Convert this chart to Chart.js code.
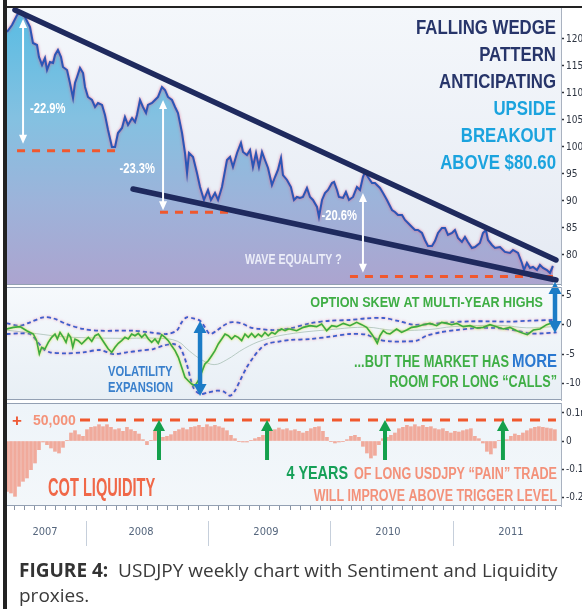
<!DOCTYPE html>
<html><head><meta charset="utf-8">
<script src="https://cdn.jsdelivr.net/npm/chart.js@4.4.1/dist/chart.umd.min.js"></script>
<style>
html,body{margin:0;padding:0;background:#fff}
body{width:582px;height:609px;position:relative;overflow:hidden}
canvas{position:absolute;left:0}
.frame{position:absolute;background:#222}
#caption{position:absolute;left:19px;top:558px;margin:0;font-family:'Open Sans',sans-serif;font-size:19px;line-height:25px;color:#3a3a3a;white-space:nowrap}
#caption b{font-weight:700;color:#333}
</style></head><body>
<canvas id="cPrice" width="582" height="286" style="top:0px"></canvas>
<canvas id="cSkew" width="582" height="131" style="top:270px"></canvas>
<canvas id="cCot" width="582" height="152" style="top:398px"></canvas>
<div class="frame" style="left:3px;top:0;width:4px;height:609px"></div>
<div class="frame" style="left:3px;top:6px;width:579px;height:2px"></div>
<p id="caption"><b>FIGURE 4:</b>&nbsp; USDJPY weekly chart with Sentiment and Liquidity<br>proxies.</p>
<script>
// ---------------- DATA (x = decimal year) ----------------
const usdjpy = [[2007.359,121.30],[2007.400,122.59],[2007.441,124.44],[2007.465,125.00],[2007.506,124.07],[2007.547,122.22],[2007.571,119.26],[2007.604,118.89],[2007.620,116.67],[2007.645,115.19],[2007.669,116.48],[2007.686,114.26],[2007.710,115.74],[2007.735,115.56],[2007.751,117.04],[2007.775,117.96],[2007.800,116.67],[2007.816,114.81],[2007.849,114.26],[2007.873,111.85],[2007.898,109.07],[2007.914,111.85],[2007.931,112.96],[2007.955,114.63],[2007.980,113.70],[2007.996,111.11],[2008.020,109.26],[2008.053,108.70],[2008.078,107.41],[2008.102,108.15],[2008.135,107.78],[2008.159,105.93],[2008.184,103.15],[2008.216,100.00],[2008.241,100.00],[2008.265,102.59],[2008.298,103.52],[2008.322,105.56],[2008.347,104.07],[2008.380,105.37],[2008.404,104.63],[2008.420,105.93],[2008.445,108.70],[2008.469,107.41],[2008.494,106.30],[2008.510,107.78],[2008.543,108.15],[2008.567,108.70],[2008.592,109.26],[2008.624,111.11],[2008.649,110.56],[2008.673,109.26],[2008.706,108.70],[2008.731,107.41],[2008.755,106.30],[2008.788,102.59],[2008.812,98.89],[2008.829,95.19],[2008.845,98.89],[2008.878,98.15],[2008.910,95.19],[2008.935,92.59],[2008.967,90.19],[2009.000,92.04],[2009.024,90.19],[2009.057,91.48],[2009.082,90.19],[2009.114,92.59],[2009.155,97.59],[2009.180,98.15],[2009.204,96.30],[2009.237,98.89],[2009.269,100.74],[2009.286,99.07],[2009.318,98.52],[2009.343,99.44],[2009.367,96.30],[2009.392,98.89],[2009.416,96.30],[2009.441,99.07],[2009.465,97.59],[2009.490,96.11],[2009.522,92.96],[2009.547,94.44],[2009.571,95.74],[2009.596,97.96],[2009.612,94.81],[2009.645,93.89],[2009.677,92.59],[2009.702,90.19],[2009.726,90.74],[2009.751,90.56],[2009.775,90.74],[2009.808,92.41],[2009.833,90.74],[2009.857,90.19],[2009.890,88.89],[2009.906,87.04],[2009.931,90.19],[2009.955,91.48],[2009.980,92.04],[2010.012,93.33],[2010.029,93.52],[2010.053,92.04],[2010.069,90.74],[2010.102,90.56],[2010.126,91.67],[2010.151,90.19],[2010.184,90.74],[2010.216,92.59],[2010.241,92.04],[2010.265,94.44],[2010.282,95.37],[2010.306,94.44],[2010.339,93.33],[2010.363,93.33],[2010.404,92.41],[2010.429,91.48],[2010.461,90.19],[2010.502,88.33],[2010.526,87.96],[2010.551,87.41],[2010.584,87.41],[2010.608,86.48],[2010.633,85.93],[2010.665,85.19],[2010.690,84.63],[2010.714,84.63],[2010.747,84.07],[2010.771,82.78],[2010.796,81.67],[2010.829,81.67],[2010.853,82.59],[2010.878,84.07],[2010.910,85.00],[2010.935,85.00],[2010.959,83.70],[2010.992,84.07],[2011.016,84.63],[2011.041,83.15],[2011.073,82.41],[2011.098,83.33],[2011.122,82.41],[2011.155,81.30],[2011.180,81.48],[2011.220,82.22],[2011.245,84.07],[2011.269,84.63],[2011.286,82.78],[2011.318,81.85],[2011.343,81.30],[2011.384,81.48],[2011.424,80.56],[2011.465,80.37],[2011.490,80.93],[2011.531,80.37],[2011.563,78.52],[2011.580,77.22],[2011.604,78.52],[2011.629,77.59],[2011.653,77.78],[2011.686,77.22],[2011.710,78.15],[2011.735,77.59],[2011.767,77.22],[2011.792,76.67],[2011.816,77.96]];
const wedgeUpper = [[2007.424,125.37],[2011.841,79.07]];
const wedgeLower = [[2008.388,92.22],[2011.841,75.37]];
// [from, to, level]
const drawdownLevels = [[2007.441,2008.241,99.31],[2008.608,2009.261,87.91],[2010.159,2011.841,76.02]];
// [date, top, bottom]
const drawdownArrows = [[2007.490,123.7,100.6],[2008.633,108.7,88.3],[2010.265,91.5,76.7]];
const drawdownLabels = ['-22.9%','-23.3%','-20.6%'];
const priceTicks = [80,85,90,95,100,105,110,115,120];

const skew = [[2007.356,-0.70],[2007.411,-0.42],[2007.465,-0.30],[2007.520,-0.99],[2007.574,-1.56],[2007.601,-2.70],[2007.623,-4.99],[2007.642,-3.84],[2007.669,-4.13],[2007.696,-2.99],[2007.724,-2.13],[2007.751,-1.56],[2007.770,-2.42],[2007.792,-1.28],[2007.819,-2.13],[2007.841,-2.99],[2007.860,-1.56],[2007.879,-2.13],[2007.896,-3.84],[2007.914,-2.42],[2007.941,-2.70],[2007.969,-3.27],[2007.996,-2.70],[2008.023,-2.13],[2008.051,-2.82],[2008.078,-1.85],[2008.105,-1.56],[2008.132,-2.42],[2008.159,-3.27],[2008.186,-4.13],[2008.214,-4.70],[2008.241,-3.84],[2008.268,-3.16],[2008.295,-2.70],[2008.322,-2.13],[2008.349,-2.42],[2008.377,-1.56],[2008.404,-1.85],[2008.431,-1.45],[2008.459,-2.13],[2008.486,-1.56],[2008.513,-2.42],[2008.540,-2.99],[2008.567,-2.42],[2008.594,-3.16],[2008.622,-1.68],[2008.649,-2.13],[2008.676,-2.70],[2008.703,-3.56],[2008.731,-4.41],[2008.758,-5.56],[2008.785,-7.27],[2008.812,-8.98],[2008.839,-9.56],[2008.867,-10.13],[2008.894,-10.42],[2008.921,-9.56],[2008.948,-8.13],[2008.975,-6.70],[2009.002,-6.13],[2009.030,-5.27],[2009.057,-4.41],[2009.084,-3.27],[2009.112,-2.42],[2009.139,-1.56],[2009.166,-1.85],[2009.193,-2.42],[2009.220,-1.85],[2009.247,-2.13],[2009.275,-2.70],[2009.302,-1.56],[2009.329,-2.13],[2009.356,-1.45],[2009.384,-2.13],[2009.411,-1.56],[2009.438,-2.02],[2009.465,-1.28],[2009.492,-1.85],[2009.520,-1.28],[2009.547,-1.56],[2009.574,-0.99],[2009.601,-0.70],[2009.629,-0.99],[2009.655,-0.70],[2009.669,-0.70],[2009.724,-0.99],[2009.778,-0.42],[2009.833,-0.13],[2009.887,-0.30],[2009.928,0.15],[2009.969,-0.99],[2010.010,-0.13],[2010.050,-0.30],[2010.105,0.26],[2010.159,-0.13],[2010.214,0.43],[2010.255,0.04],[2010.295,-0.42],[2010.336,-1.56],[2010.363,-2.42],[2010.382,-3.16],[2010.404,-1.85],[2010.431,-0.99],[2010.459,-1.45],[2010.486,-1.56],[2010.540,-0.70],[2010.581,-1.28],[2010.622,-0.88],[2010.663,-0.42],[2010.704,-0.30],[2010.758,0.04],[2010.812,0.26],[2010.867,-0.13],[2010.908,0.43],[2010.949,0.26],[2010.990,0.04],[2011.030,0.26],[2011.084,-0.30],[2011.139,-0.13],[2011.193,-0.53],[2011.247,-0.42],[2011.302,0.04],[2011.356,-0.30],[2011.411,-0.70],[2011.465,-0.42],[2011.520,-0.99],[2011.574,-1.45],[2011.607,-1.68],[2011.656,-0.88],[2011.710,-0.70],[2011.765,0.04],[2011.819,0.43]];
const skewUpper = [[2007.356,0.26],[2007.465,-0.13],[2007.547,0.43],[2007.656,1.30],[2007.737,1.12],[2007.846,0.15],[2007.982,-0.70],[2008.118,-0.99],[2008.255,-0.99],[2008.390,-0.99],[2008.526,-1.28],[2008.663,-1.56],[2008.744,-0.99],[2008.785,0.43],[2008.826,1.30],[2008.880,1.12],[2008.935,0.72],[2008.975,-0.42],[2009.016,-1.56],[2009.071,-0.99],[2009.125,-0.13],[2009.180,0.43],[2009.234,0.43],[2009.288,0.15],[2009.343,-0.42],[2009.425,-0.70],[2009.533,-0.88],[2009.669,-0.60],[2009.833,0.26],[2009.996,0.72],[2010.159,0.84],[2010.295,1.12],[2010.431,1.18],[2010.567,0.61],[2010.676,0.04],[2010.812,0.15],[2010.976,0.43],[2011.139,0.61],[2011.302,0.61],[2011.465,0.55],[2011.628,0.72],[2011.819,0.84]];
const skewLower = [[2007.356,-1.56],[2007.465,-1.45],[2007.547,-1.56],[2007.601,-2.70],[2007.656,-4.13],[2007.710,-4.70],[2007.846,-4.87],[2007.982,-4.70],[2008.118,-4.30],[2008.227,-4.99],[2008.336,-4.70],[2008.445,-4.41],[2008.554,-4.13],[2008.635,-3.56],[2008.717,-3.27],[2008.771,-3.84],[2008.826,-6.70],[2008.880,-10.70],[2008.935,-11.84],[2009.002,-11.56],[2009.071,-11.27],[2009.125,-11.39],[2009.180,-12.13],[2009.220,-11.27],[2009.261,-9.56],[2009.316,-7.27],[2009.370,-5.56],[2009.425,-4.13],[2009.479,-3.27],[2009.588,-2.82],[2009.669,-2.59],[2009.833,-2.42],[2009.996,-2.02],[2010.159,-1.56],[2010.295,-1.68],[2010.377,-2.42],[2010.486,-2.82],[2010.622,-2.82],[2010.704,-2.70],[2010.785,-1.85],[2010.894,-1.28],[2011.030,-0.88],[2011.193,-0.53],[2011.356,-0.53],[2011.520,-0.99],[2011.628,-1.45],[2011.737,-1.45],[2011.846,-1.28]];
const skewMean = [[2007.356,-0.9],[2007.6,-1.5],[2007.8,-2.0],[2008.0,-2.2],[2008.3,-2.3],[2008.6,-2.3],[2008.75,-2.8],[2008.85,-4.5],[2008.95,-6.0],[2009.05,-6.8],[2009.15,-6.0],[2009.3,-4.0],[2009.45,-2.6],[2009.65,-1.6],[2010.0,-0.8],[2010.3,-0.4],[2010.5,-0.9],[2010.8,-0.8],[2011.0,-0.3],[2011.4,-0.1],[2011.6,-0.5],[2011.82,-0.3]];
const skewTicks = [5,0,-5,-10];
const volArrow = [2008.935,0.67,-12.17];
const skewArrow = [2011.833,7.35,-1.39];

// COT net position, thousands of contracts, sampled every 12 days from cotFirst
const cotFirst = 2007.359, cotStep = 0.03265;
const cotNetK = [-179.8,-185.7,-197.6,-161.8,-144.0,-132.1,-102.4,-78.6,-31.0,-3.6,-13.1,-25.0,-36.9,-42.9,-22.6,1.2,28.6,36.9,22.6,16.7,40.5,48.8,51.2,58.3,51.2,58.3,48.8,40.5,44.0,34.5,48.8,40.5,34.5,25.0,4.8,-13.1,1.2,34.5,22.6,13.1,16.7,22.6,34.5,40.5,46.4,40.5,48.8,51.2,55.9,48.8,58.3,51.2,55.9,51.2,46.4,36.9,20.2,8.3,-1.2,-3.6,-3.6,1.2,8.3,13.1,20.2,28.6,34.5,40.5,46.4,40.5,44.0,36.9,40.5,34.5,28.6,34.5,44.0,48.8,51.2,34.5,13.1,-1.2,-7.1,-3.6,-1.2,4.8,16.7,20.2,13.1,-19.0,-42.9,-60.7,-51.2,-13.1,8.3,13.1,20.2,28.6,44.0,48.8,55.9,51.2,58.3,51.2,55.9,48.8,51.2,44.0,40.5,44.0,34.5,28.6,34.5,32.1,36.9,40.5,44.0,16.7,8.3,-7.1,-36.9,-46.4,-25.0,1.2,8.3,4.8,16.7,25.0,20.2,28.6,36.9,44.0,48.8,51.2,48.8,46.4,44.0,40.5];
const cotTicks = [100,0,-100,-200];
const triggerLine = [2007.955,2011.841,75];     // dashed "50,000" trigger line as drawn
const painArrowDates = [2008.600,2009.482,2010.445,2011.408];
const painArrowRange = [-67.9,75];

const yearLabels = ['2007','2008','2009','2010','2011'];
const yearLabelDates = [2007.669,2008.453,2009.473,2010.469,2011.473];
const yearStarts = [2008,2009,2010,2011];

// ---------------- HELPERS ----------------
const X_MIN = 2007.359, X_MAX = 2011.882, AXIS_W = 21;
const FB = "'Liberation Sans', Arial, sans-serif";
const FA = "'Liberation Sans Narrow','DejaVu Sans Condensed','Liberation Sans',sans-serif";
const pts = s => s.map(([x,y]) => ({x,y}));

function capText(ctx, s, x, cy, size, color, sx, align) {
  ctx.save();
  ctx.font = `bold ${size}px ${FB}`;
  ctx.fillStyle = color;
  ctx.textAlign = align || 'left';
  ctx.textBaseline = 'alphabetic';
  ctx.translate(x, cy + size * 0.358);
  ctx.scale(sx, 1);
  ctx.fillText(s, 0, 0);
  ctx.restore();
}
function vArrow(ctx, x, yTop, yBot, color, lw, hw, hl, both) {
  ctx.save();
  ctx.strokeStyle = color; ctx.fillStyle = color; ctx.lineWidth = lw;
  ctx.beginPath(); ctx.moveTo(x, yTop + hl * 0.8); ctx.lineTo(x, both ? yBot - hl * 0.8 : yBot); ctx.stroke();
  ctx.beginPath(); ctx.moveTo(x, yTop); ctx.lineTo(x - hw / 2, yTop + hl); ctx.lineTo(x + hw / 2, yTop + hl); ctx.closePath(); ctx.fill();
  if (both) { ctx.beginPath(); ctx.moveTo(x, yBot); ctx.lineTo(x - hw / 2, yBot - hl); ctx.lineTo(x + hw / 2, yBot - hl); ctx.closePath(); ctx.fill(); }
  ctx.restore();
}
const panelPlugin = {
  id: 'panel',
  beforeDraw(chart, args, o) {
    const {ctx, chartArea: a} = chart;
    const g = ctx.createLinearGradient(0, a.top, 0, a.bottom);
    o.stops.forEach(([p, c]) => g.addColorStop(p, c));
    ctx.save(); ctx.fillStyle = g; ctx.fillRect(a.left, a.top, a.right - a.left, a.bottom - a.top); ctx.restore();
  },
  afterDraw(chart, args, o) {
    const {ctx, chartArea: a} = chart;
    ctx.save(); ctx.strokeStyle = o.border; ctx.lineWidth = 1; ctx.beginPath();
    if (o.top) { ctx.moveTo(a.left, a.top + 0.5); ctx.lineTo(a.right, a.top + 0.5); }
    ctx.moveTo(a.left, a.bottom - 0.5); ctx.lineTo(a.right, a.bottom - 0.5);
    ctx.stroke(); ctx.restore();
  }
};
const haloPlugin = {
  id: 'halo',
  beforeDatasetDraw(chart, {index}) {
    const ds = chart.data.datasets[index];
    if (!ds.halo) return;
    chart.ctx.save(); chart.ctx.shadowColor = ds.halo; chart.ctx.shadowBlur = 2.5;
  },
  afterDatasetDraw(chart, {index}) { if (chart.data.datasets[index].halo) chart.ctx.restore(); }
};
function xAxis() { return {type: 'linear', min: X_MIN, max: X_MAX, offset: false, display: false, grid: {display: false, offset: false}}; }
function yAxis(min, max, ticks, fmt) {
  return {
    position: 'right', min, max,
    afterBuildTicks: s => { s.ticks = ticks.map(v => ({value: v})); },
    afterFit: s => { s.width = AXIS_W; s.paddingTop = 0; s.paddingBottom = 0; },
    ticks: {padding: 2, color: '#2e3542', font: {family: FA, size: 10}, callback: fmt || (v => String(v))},
    grid: {drawOnChartArea: false, drawTicks: true, tickLength: 3, tickColor: '#30343c', tickWidth: 1.5},
    border: {display: true, color: '#a9b2c0', width: 1}
  };
}
function baseOptions(padding, scales, plugins) {
  return {responsive: false, animation: false, events: [], layout: {padding}, scales,
    plugins: Object.assign({legend: {display: false}, tooltip: {enabled: false}}, plugins)};
}

// ---------------- PRICE PANEL ----------------
const priceFill = c => {
  const a = c.chart.chartArea; if (!a) return 'rgba(0,0,0,0)';
  const g = c.chart.ctx.createLinearGradient(0, a.top, 0, a.bottom);
  g.addColorStop(0, '#58bce3'); g.addColorStop(0.4, '#84c1e1'); g.addColorStop(0.7, '#9db3da'); g.addColorStop(1, '#aca4cf');
  return g;
};
const priceNotes = {
  id: 'priceNotes',
  afterDatasetsDraw(chart) {
    const {ctx, scales: {x, y}} = chart;
    drawdownArrows.forEach(([d, t, b]) => vArrow(ctx, x.getPixelForValue(d), y.getPixelForValue(t), y.getPixelForValue(b), '#ffffff', 2, 8, 9, true));
    const ax = drawdownArrows.map(a => x.getPixelForValue(a[0]));
    capText(ctx, drawdownLabels[0], ax[0] + 7, 108, 14, '#ffffff', 0.8, 'left');
    capText(ctx, drawdownLabels[1], ax[1] - 8, 168, 14, '#ffffff', 0.8, 'right');
    capText(ctx, drawdownLabels[2], ax[2] - 6, 215, 14, '#ffffff', 0.8, 'right');
    capText(ctx, 'WAVE EQUALITY ?', 245, 259, 14, 'rgba(238,240,250,0.95)', 0.76, 'left');
    const head = [['FALLING WEDGE', '#27356a', 26], ['PATTERN', '#27356a', 53], ['ANTICIPATING', '#27356a', 80],
                  ['UPSIDE', '#1ba3de', 107], ['BREAKOUT', '#1ba3de', 134], ['ABOVE $80.60', '#1ba3de', 161]];
    head.forEach(([s, c, cy]) => capText(ctx, s, 556, cy, 21, c, 0.8, 'right'));
  }
};
new Chart(document.getElementById('cPrice'), {
  type: 'line',
  data: {datasets: [
    {label: 'Wedge upper', data: pts(wedgeUpper), borderColor: '#1f2a5e', borderWidth: 5.5, borderCapStyle: 'round', pointRadius: 0, order: 0},
    {label: 'Wedge lower', data: pts(wedgeLower), borderColor: '#1f2a5e', borderWidth: 5.5, borderCapStyle: 'round', pointRadius: 0, order: 0},
    ...drawdownLevels.map(([f, t, v]) => ({label: 'Level', data: [{x: f, y: v}, {x: t, y: v}], borderColor: '#f0582e', borderWidth: 3, borderDash: [8, 7], pointRadius: 0, order: 1})),
    {label: 'USDJPY', data: pts(usdjpy), borderColor: '#2b56b6', borderWidth: 2, pointRadius: 0, tension: 0, fill: 'start', backgroundColor: priceFill, halo: 'rgba(225,90,130,0.9)', order: 2}
  ]},
  options: baseOptions({top: 8, bottom: 1, left: 7, right: 0},
    {x: xAxis(), y: yAxis(74.44, 125.74, priceTicks)},
    {panel: {stops: [[0, '#f4f7fb'], [1, '#e5eaf3']], border: '#93a0b3', top: false}}),
  plugins: [panelPlugin, haloPlugin, priceNotes]
});

// ---------------- SKEW PANEL ----------------
const skewNotes = {
  id: 'skewNotes',
  afterDatasetsDraw(chart) {
    const {ctx, scales: {x, y}} = chart;
    const off = 270;
    const green = '#3fae45';
    capText(ctx, 'OPTION SKEW AT MULTI-YEAR HIGHS', 543, 302 - off, 14, green, 0.9, 'right');
    capText(ctx, '...BUT THE MARKET HAS', 509, 361 - off, 16, green, 0.8, 'right');
    capText(ctx, 'MORE', 557, 360 - off, 19, '#2a78d0', 0.79, 'right');
    capText(ctx, 'ROOM FOR LONG \u201CCALLS\u201D', 557, 381 - off, 16, green, 0.79, 'right');
    capText(ctx, 'VOLATILITY', 108, 371 - off, 14, '#3a80cc', 0.8, 'left');
    capText(ctx, 'EXPANSION', 108, 387 - off, 14, '#3a80cc', 0.8, 'left');
    [volArrow, skewArrow].forEach(([d, t, b]) => vArrow(ctx, x.getPixelForValue(d), y.getPixelForValue(t), y.getPixelForValue(b), '#1c7cc6', 4.5, 13, 12, true));
  }
};
new Chart(document.getElementById('cSkew'), {
  type: 'line',
  data: {datasets: [
    {label: 'Skew', data: pts(skew), borderColor: '#3cab3f', borderWidth: 1.6, pointRadius: 0, halo: 'rgba(215,225,60,0.95)', order: 0},
    {label: 'Upper band', data: pts(skewUpper), borderColor: '#3c5fcd', borderWidth: 1.8, borderDash: [4, 3], pointRadius: 0, tension: 0.3, halo: 'rgba(240,130,170,0.9)', order: 1},
    {label: 'Lower band', data: pts(skewLower), borderColor: '#3c5fcd', borderWidth: 1.8, borderDash: [4, 3], pointRadius: 0, tension: 0.3, halo: 'rgba(240,130,170,0.9)', order: 1},
    {label: 'Mean', data: pts(skewMean), borderColor: 'rgba(160,185,172,0.7)', borderWidth: 1, pointRadius: 0, tension: 0.4, order: 2}
  ]},
  options: baseOptions({top: 17, bottom: 1, left: 7, right: 0},
    {x: xAxis(), y: yAxis(-12.86, 6.49, skewTicks)},
    {panel: {stops: [[0, '#f6f9fc'], [1, '#e8eff5']], border: '#93a0b3', top: true}}),
  plugins: [panelPlugin, haloPlugin, skewNotes]
});

// ---------------- COT PANEL ----------------
const cotNotes = {
  id: 'cotNotes',
  afterDatasetsDraw(chart) {
    const {ctx, scales: {x, y}} = chart;
    const off = 398;
    painArrowDates.forEach(d => vArrow(ctx, x.getPixelForValue(d), y.getPixelForValue(painArrowRange[1]), y.getPixelForValue(painArrowRange[0]), '#14a04c', 4, 12, 11, false));
    capText(ctx, '+', 17, 420 - off, 17, '#ee5a36', 1, 'center');
    capText(ctx, '50,000', 33, 420 - off, 14, '#f4937a', 1, 'left');
    capText(ctx, 'COT LIQUIDITY', 48, 487 - off, 25, '#f06848', 0.585, 'left');
    capText(ctx, '4 YEARS', 348, 473 - off, 18, '#16a058', 0.8, 'right');
    capText(ctx, 'OF LONG USDJPY \u201CPAIN\u201D TRADE', 557, 473 - off, 16, '#f3917a', 0.786, 'right');
    capText(ctx, 'WILL IMPROVE ABOVE TRIGGER LEVEL', 557, 495 - off, 16, '#f3917a', 0.78, 'right');
  },
  afterDraw(chart) {
    const {ctx, chartArea: a, scales: {x}} = chart;
    ctx.save();
    ctx.strokeStyle = '#8893a3'; ctx.lineWidth = 1; ctx.beginPath();
    for (let yr = 2007; yr <= 2011; yr++) for (let m = 0; m < 12; m++) {
      const t = yr + m / 12; if (t < X_MIN || t > X_MAX) continue;
      const px = Math.round(x.getPixelForValue(t)) + 0.5;
      ctx.moveTo(px, a.bottom); ctx.lineTo(px, a.bottom + 4);
    }
    ctx.stroke();
    ctx.strokeStyle = '#c6cfdb'; ctx.beginPath();
    yearStarts.forEach(t => { const px = Math.round(x.getPixelForValue(t)) + 0.5; ctx.moveTo(px, 521 - 398); ctx.lineTo(px, 546 - 398); });
    ctx.stroke(); ctx.restore();
  }
};
new Chart(document.getElementById('cCot'), {
  type: 'bar',
  data: {datasets: [
    {type: 'line', label: 'Trigger', data: [{x: triggerLine[0], y: triggerLine[2]}, {x: triggerLine[1], y: triggerLine[2]}], borderColor: '#f0582e', borderWidth: 3, borderDash: [10, 8], pointRadius: 0, order: 0},
    {type: 'bar', label: 'COT net', data: cotNetK.map((v, i) => ({x: cotFirst + i * cotStep, y: v})), backgroundColor: 'rgba(240,108,78,0.55)', barThickness: 3, order: 2}
  ]},
  options: baseOptions({top: 5, bottom: 0, left: 7, right: 0}, {
    x: {type: 'linear', min: X_MIN, max: X_MAX, offset: false, display: true,
        afterBuildTicks: s => { s.ticks = yearLabelDates.map(v => ({value: v})); },
        afterFit: s => { s.height = 44; s.paddingLeft = 0; s.paddingRight = 0; },
        ticks: {autoSkip: false, maxRotation: 0, padding: 20, color: '#55667d', font: {family: FA, size: 11}, callback: (v, i) => yearLabels[i]},
        grid: {display: false, drawTicks: false, offset: false}, border: {display: false}},
    y: yAxis(-232.1, 135.7, cotTicks, v => v === 0 ? '0' : (v / 1000) + 'm')
  }, {panel: {stops: [[0, '#eef4f9'], [1, '#f3f7fa']], border: '#93a0b3', top: true}}),
  plugins: [panelPlugin, cotNotes]
});
</script>
</body></html>
